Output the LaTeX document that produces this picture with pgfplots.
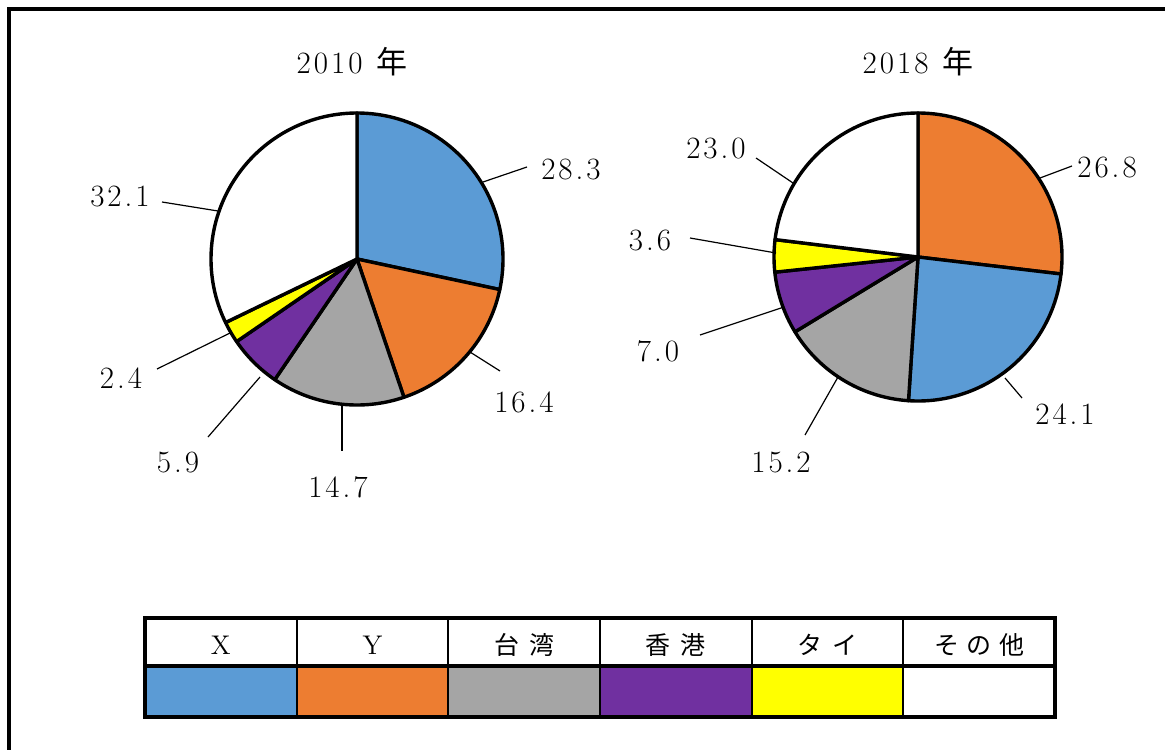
\documentclass[border=0pt]{standalone}
\usepackage{fontspec}
\usepackage{pgfplots}
\pgfplotsset{compat=1.18}
\newfontfamily\jp{Noto Sans CJK JP}
\definecolor{cX}{HTML}{5B9BD5}
\definecolor{cY}{HTML}{ED7D31}
\definecolor{cTW}{HTML}{A5A5A5}
\definecolor{cHK}{HTML}{7030A0}
\definecolor{cTH}{HTML}{FFFF00}
\definecolor{cOT}{HTML}{FFFFFF}
% letter-spaced numbers
\def\num#1{\numloop#1\relax}
\def\numloop#1{\ifx#1\relax\unkern\else#1\kern1.5pt\expandafter\numloop\fi}
% slice from cumulative value #1 to #2, total #3, radius #4 (px), colour #5
\newcommand\pieslice[5]{\addplot[fill=#5, draw=black, line width=1.7pt, line join=round,
  domain={90-360*(#2)/(#3)}:{90-360*(#1)/(#3)}, samples=90, variable=\t]
  ({#4*cos(\t)},{#4*sin(\t)}) -- (axis cs:0,0) -- cycle;}
\tikzset{lbl/.style={font=\fontsize{15.5}{18}\selectfont, inner sep=0pt}}
\pgfplotsset{pieaxis/.style={x=0.5pt, y=0.5pt, xmin=-200, xmax=200, ymin=-200, ymax=200,
  hide axis, clip=false, anchor=center}}
\begin{document}
\begin{tikzpicture}[x=0.5pt, y=-0.5pt]
\useasboundingbox (0,0) rectangle (1165,749);
\draw[line width=1.6pt] (9,9) rectangle (1190,780);

% ---------------- 2010 ----------------
\begin{axis}[pieaxis, at={(178.5pt,-129.5pt)}]
\pieslice{0}{28.3}{99.8}{146}{cX}
\pieslice{28.3}{28.3+16.4}{99.8}{146}{cY}
\pieslice{44.7}{44.7+14.7}{99.8}{146}{cTW}
\pieslice{59.4}{59.4+5.9}{99.8}{146}{cHK}
\pieslice{65.3}{65.3+2.4}{99.8}{146}{cTH}
\pieslice{67.7}{67.7+32.1}{99.8}{146}{cOT}
\addplot[black, line width=0.6pt] coordinates {(126,77) (170,92)};
\addplot[black, line width=0.6pt] coordinates {(113,-93) (143,-112)};
\addplot[black, line width=0.6pt] coordinates {(-15,-146) (-15,-192)};
\addplot[black, line width=0.6pt] coordinates {(-97,-118) (-149,-178)};
\addplot[black, line width=0.6pt] coordinates {(-127,-74) (-200,-110)};
\addplot[black, line width=0.6pt] coordinates {(-139,48) (-195,57)};
\node[lbl] at (axis cs:214,89) {\num{28.3}};
\node[lbl] at (axis cs:167,-143) {\num{16.4}};
\node[lbl] at (axis cs:-19,-228) {\num{14.7}};
\node[lbl] at (axis cs:-179,-203) {\num{5.9}};
\node[lbl] at (axis cs:-236,-119) {\num{2.4}};
\node[lbl] at (axis cs:-237,63) {\num{32.1}};
\node[lbl] at (axis cs:-5,197) {\num{2010}\hspace{0.45em}{\jp 年}};
\end{axis}

% ---------------- 2018 ----------------
\begin{axis}[pieaxis, at={(459pt,-128.5pt)}]
\pieslice{0}{26.8}{99.7}{144}{cY}
\pieslice{26.8}{26.8+24.1}{99.7}{144}{cX}
\pieslice{50.9}{50.9+15.2}{99.7}{144}{cTW}
\pieslice{66.1}{66.1+7.0}{99.7}{144}{cHK}
\pieslice{73.1}{73.1+3.6}{99.7}{144}{cTH}
\pieslice{76.7}{76.7+23.0}{99.7}{144}{cOT}
\addplot[black, line width=0.6pt] coordinates {(122,79) (154,91)};
\addplot[black, line width=0.6pt] coordinates {(87,-121) (104,-141)};
\addplot[black, line width=0.6pt] coordinates {(-80,-120) (-113,-178)};
\addplot[black, line width=0.6pt] coordinates {(-134,-50) (-218,-78)};
\addplot[black, line width=0.6pt] coordinates {(-142,4) (-228,19)};
\addplot[black, line width=0.6pt] coordinates {(-125,74) (-162,99)};
\node[lbl] at (axis cs:189,89) {\num{26.8}};
\node[lbl] at (axis cs:147,-157) {\num{24.1}};
\node[lbl] at (axis cs:-137,-205) {\num{15.2}};
\node[lbl] at (axis cs:-260,-94) {\num{7.0}};
\node[lbl] at (axis cs:-268,16) {\num{3.6}};
\node[lbl] at (axis cs:-202,108) {\num{23.0}};
\node[lbl] at (axis cs:0,195) {\num{2018}\hspace{0.45em}{\jp 年}};
\end{axis}

% ---------------- legend table ----------------
\def\cw{151.667}
\foreach \c [count=\i from 0] in {cX,cY,cTW,cHK,cTH,cOT}{
  \fill[\c] ({145+\i*\cw},666) rectangle ({145+(\i+1)*\cw},717);
}
\foreach \i in {1,...,5}{
  \draw[line width=1pt] ({145+\i*\cw},618) -- ({145+\i*\cw},717);
}
\draw[line width=1.6pt] (145,666) -- (1055,666);
\draw[line width=2pt] (145,618) rectangle (1055,717);
\begin{scope}[every node/.style={anchor=center}]
\node[font=\fontsize{13.5}{16}\selectfont] at ({145+0.5*\cw},645) {X};
\node[font=\fontsize{13.5}{16}\selectfont] at ({145+1.5*\cw},645) {Y};
\node[font=\fontsize{12.5}{15}\selectfont\jp] at ({145+2.5*\cw},645) {台\hspace{0.4em}湾};
\node[font=\fontsize{12.5}{15}\selectfont\jp] at ({145+3.5*\cw},645) {香\hspace{0.4em}港};
\node[font=\fontsize{12.5}{15}\selectfont\jp] at ({145+4.5*\cw},645) {タ\hspace{0.4em}イ};
\node[font=\fontsize{12.5}{15}\selectfont\jp] at ({145+5.5*\cw},645) {そ\hspace{0.3em}の\hspace{0.3em}他};
\end{scope}
\end{tikzpicture}
\end{document}
